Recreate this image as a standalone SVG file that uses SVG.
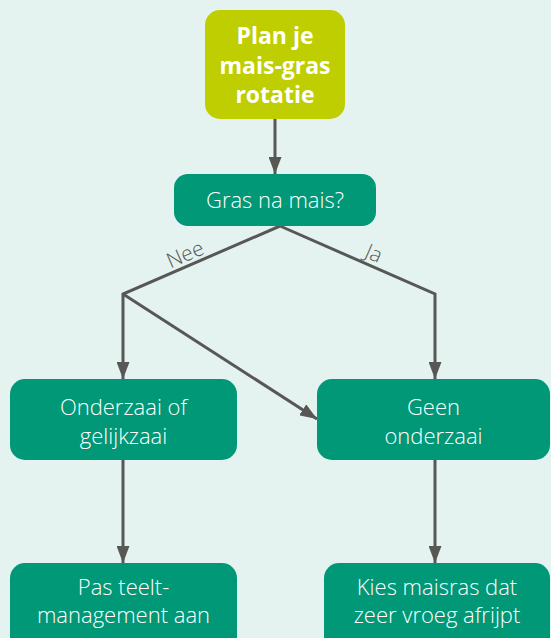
<svg xmlns="http://www.w3.org/2000/svg" width="551" height="638" viewBox="0 0 551 638">
<style>
.bg{fill:#e5f3f0}
.box{fill:#009877}
.lime{fill:#bfce00}
.t{font-family:"Open Sans","Liberation Sans",sans-serif;font-size:22px;font-weight:300;fill:#ffffff;text-anchor:middle}
.tb{font-family:"Open Sans","Liberation Sans",sans-serif;font-size:23px;font-weight:bold;fill:#ffffff;text-anchor:middle}
.lbl{font-family:"Open Sans","Liberation Sans",sans-serif;font-size:21px;font-weight:300;fill:#575756;text-anchor:middle}
.ln{fill:none;stroke:#575756;stroke-width:3;stroke-linejoin:miter}
</style>
<defs>
<marker id="ah" viewBox="0 0 17 13" refX="17" refY="6.5" markerWidth="17" markerHeight="13" markerUnits="userSpaceOnUse" orient="auto">
<path d="M0,0 L17,6.5 L0,13 Z" fill="#575756"/>
</marker>
</defs>
<rect class="bg" x="0" y="0" width="551" height="638"/>
<g id="connectors">
<line class="ln" x1="275" y1="119" x2="275" y2="174" marker-end="url(#ah)"/>
<polyline class="ln" points="280,226 123,294 123,379" marker-end="url(#ah)"/>
<polyline class="ln" points="280,226 435,294 435,379" marker-end="url(#ah)"/>
<line class="ln" x1="123" y1="294" x2="317" y2="419" marker-end="url(#ah)"/>
<line class="ln" x1="123" y1="460" x2="123" y2="563" marker-end="url(#ah)"/>
<line class="ln" x1="435" y1="460" x2="435" y2="563" marker-end="url(#ah)"/>
<text class="lbl" transform="translate(188,261) rotate(-23.4)">Nee</text>
<text class="lbl" transform="translate(371,260) rotate(23.7)">Ja</text>
</g>
<g id="start">
<rect class="lime" x="205" y="10" width="140" height="109" rx="15"/>
<text class="tb" x="275" y="44">Plan je</text>
<text class="tb" x="275" y="73.5">mais-gras</text>
<text class="tb" x="275" y="102.5">rotatie</text>
</g>
<g id="question">
<rect class="box" x="174" y="174" width="202" height="52" rx="14"/>
<text class="t" x="275" y="208">Gras na mais?</text>
</g>
<g id="onderzaai">
<rect class="box" x="10" y="379" width="227" height="81" rx="15"/>
<text class="t" x="123.5" y="415">Onderzaai of</text>
<text class="t" x="123.5" y="444">gelijkzaai</text>
</g>
<g id="geen">
<rect class="box" x="317" y="379" width="233" height="81" rx="15"/>
<text class="t" x="433.5" y="415">Geen</text>
<text class="t" x="433.5" y="444">onderzaai</text>
</g>
<g id="teelt">
<rect class="box" x="10" y="563" width="227" height="95" rx="15"/>
<text class="t" x="123.5" y="595">Pas teelt-</text>
<text class="t" x="123.5" y="623">management aan</text>
</g>
<g id="maisras">
<rect class="box" x="324" y="563" width="226" height="95" rx="15"/>
<text class="t" x="437" y="595">Kies maisras dat</text>
<text class="t" x="437" y="623">zeer vroeg afrijpt</text>
</g>
</svg>
